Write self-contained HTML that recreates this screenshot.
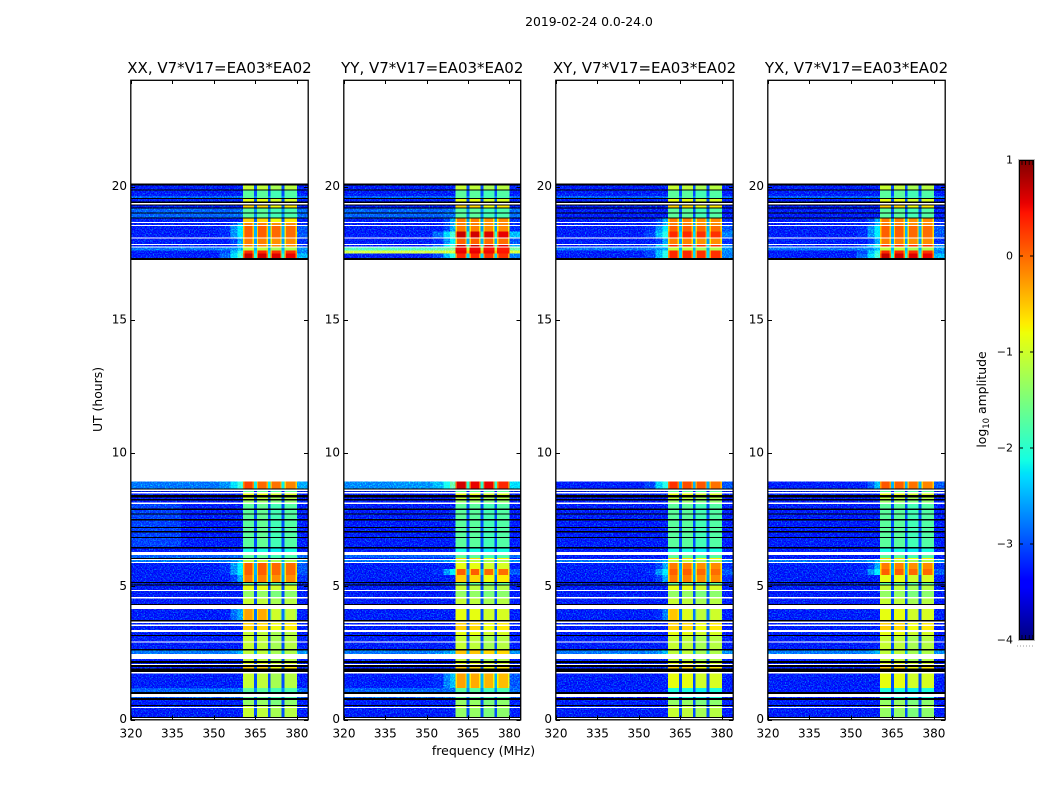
<!DOCTYPE html>
<html lang="en">
<head>
<meta charset="utf-8">
<title>2019-02-24 waterfall</title>
<style>
html,body{margin:0;padding:0;background:#fff;width:1050px;height:800px;overflow:hidden}
svg{display:block}
text{font-family:"DejaVu Sans","Liberation Sans",sans-serif;fill:#000}
</style>
</head>
<body>
<svg id="figure" xmlns="http://www.w3.org/2000/svg" width="1050" height="800" viewBox="0 0 1050 800">
<defs>
<filter id="grain" x="0" y="0" width="1" height="1" color-interpolation-filters="sRGB">
<feTurbulence type="fractalNoise" baseFrequency="0.75" numOctaves="2" seed="7" result="n"/>
<feColorMatrix in="n" type="matrix" values="0 0 0 0 0  1.5 0 0 0 -0.65  0 1.2 0 0 -0.45  0 0 0 0 1" result="c"/>
<feComposite in="SourceGraphic" in2="c" operator="arithmetic" k1="0" k2="1" k3="1" k4="0" result="s"/>
<feComposite in="s" in2="SourceAlpha" operator="in"/>
</filter>
</defs>
<text x="589" y="26" font-size="12.4" text-anchor="middle">2019-02-24 0.0-24.0</text>
<text x="483.5" y="755" font-size="12.5" text-anchor="middle">frequency (MHz)</text>
<text transform="translate(102,399.5) rotate(-90)" font-size="12.4" text-anchor="middle">UT (hours)</text>
<text transform="translate(986,399.5) rotate(-90)" font-size="12.4" text-anchor="middle">log<tspan font-size="8.5" dy="3">10</tspan><tspan dy="-3"> amplitude</tspan></text>
</svg>
<script>
// ---- Data: frequency segments (MHz) and the spectrum column each segment reads
const freqEdges = [320,338,352,356,358.5,360.5,361,364,364.5,365.5,366,369,369.5,370.5,371,374,374.5,375.5,376,379.5,380,384];
const segmentColumn = ['q1','q2','s0','s1','s2','r1','b1','r1','gap','r2','b2','r2','gap','r3','b3','r3','gap','r4','b4','r4','tail'];
const spectrumColumns = ['q1','q2','s0','s1','s2','b1','b2','b3','b4','tail','gap','rim'];

// ---- Data: typical log10 amplitude per spectrum type, in spectrumColumns order
const spectra = {
  dq:  [-3.8,-3.8,-3.8,-3.8,-3.8,-1.7,-1.7,-1.8,-1.7,-3.8,-3.3,0],
  gr:  [-3.55,-3.55,-3.55,-3.55,-3.55,-1.7,-1.7,-1.85,-1.75,-3.45,-3.0,0],
  grs: [-3.2,-3.5,-3.55,-3.55,-3.55,-1.7,-1.65,-1.85,-1.75,-3.45,-3.0,0],
  gc:  [-3.4,-3.4,-3.4,-3.4,-3.4,-2.1,-2.1,-2.2,-2.1,-3.4,-3.0,0],
  gy:  [-3.55,-3.55,-3.55,-3.55,-3.55,-1.35,-1.35,-1.5,-1.4,-3.45,-3.0,0],
  yg:  [-3.55,-3.55,-3.55,-3.55,-3.45,-1.05,-1.1,-1.25,-1.15,-3.45,-3.0,0],
  ye:  [-3.55,-3.55,-3.55,-3.55,-3.45,-0.85,-0.85,-1.0,-0.95,-3.45,-3.0,0],
  yo:  [-3.55,-3.55,-3.55,-3.55,-3.4,-0.55,-0.6,-0.8,-0.7,-3.45,-2.9,0],
  or:  [-3.55,-3.55,-3.5,-3.2,-2.7,-0.1,-0.12,-0.2,-0.18,-3.3,-2.6,0.55],
  os:  [-3.55,-3.55,-3.3,-2.8,-2.3,0.05,0.05,0,-0.02,-3.1,-2.5,0.6],
  rd:  [-3.55,-3.55,-3.2,-2.6,-2.0,0.35,0.35,0.3,0.3,-2.9,-2.3,0.6],
  dr:  [-3.5,-3.5,-3.0,-2.4,-1.8,0.7,0.65,0.6,0.55,-2.6,-2.0,0.7],
  az:  [-3.05,-3.05,-3.05,-3.0,-3.0,-1.7,-1.7,-1.85,-1.8,-3.0,-2.7,0],
  azy: [-2.95,-2.95,-2.9,-2.8,-2.6,-1.1,-1.1,-1.25,-1.2,-2.8,-2.5,0],
  azo: [-2.95,-2.95,-2.9,-2.8,-2.6,-0.5,-0.5,-0.6,-0.6,-2.8,-2.5,0],
  aor: [-2.95,-2.95,-2.8,-2.4,-1.9,0.2,0,-0.05,-0.15,-2.7,-2.2,0.4],
  adr: [-2.85,-2.8,-2.6,-2.1,-1.6,0.65,0.55,0.55,0.35,-2.4,-2.0,0.5],
  qrd: [-3.5,-3.5,-3.2,-2.5,-2.0,0.3,0.15,0.1,-0.05,-3.1,-2.5,0.4],
  qor: [-3.5,-3.5,-3.4,-3.1,-2.6,0.1,0.05,-0.05,-0.15,-3.1,-2.5,0.4],
  bb:  [-0.95,-0.95,-0.95,-0.9,-0.9,0.55,0.55,0.5,0.45,-0.9,-0.5,0],
  bg:  [-1.7,-1.7,-1.6,-1.5,-1.4,0.5,0.5,0.45,0.4,-1.5,-1.1,0],
  ob:  [-3.55,-3.55,-3.4,-3.0,-2.7,-0.3,-0.35,-1.0,-1.05,-3.4,-2.8,0.3],
  oyl: [-3.55,-3.55,-3.55,-3.3,-2.9,-0.5,-0.9,-1.1,-1.0,-3.4,-2.8,0.2],
  oss: [-3.5,-3.45,-3.3,-2.9,-2.6,-0.3,-0.35,-0.4,-0.45,-3.1,-2.5,0.35]
};

// ---- Data: time rows [UT high, UT low, XX, YY, XY, YX]; K = flagged black, W = no data
const timeRows = [
[20.11,20.04,'K','K','K','K'],[20.04,19.89,'yg','yg','yg','yg'],[19.89,19.85,'K','K','K','K'],
[19.85,19.64,'gr','gr','gr','gr'],[19.64,19.57,'az','az','az','az'],[19.57,19.54,'K','K','K','K'],
[19.54,19.44,'ye','ye','ye','ye'],[19.44,19.39,'K','K','K','K'],[19.39,19.33,'W','W','W','W'],
[19.33,19.29,'K','K','K','K'],[19.29,19.22,'yo','yo','yo','yo'],[19.22,19.18,'K','K','K','K'],
[19.18,19.03,'az','az','gr','gr'],[19.03,18.99,'K','K','K','K'],[18.99,18.84,'az','az','gr','gr'],
[18.84,18.81,'K','K','K','K'],[18.81,18.675,'yo','or','or','or'],[18.675,18.64,'W','W','W','W'],
[18.64,18.56,'or','or','or','or'],[18.56,18.525,'W','W','W','W'],[18.525,18.32,'os','or','os','os'],
[18.32,18.09,'os','dr','rd','os'],[18.09,18.06,'W','W','W','W'],[18.06,17.85,'or','os','or','or'],
[17.85,17.81,'W','W','W','W'],[17.81,17.76,'or','dr','rd','rd'],[17.76,17.72,'W','W','W','W'],
[17.72,17.61,'azy','bg','azy','azy'],[17.61,17.49,'rd','bb','rd','rd'],[17.49,17.325,'dr','rd','rd','dr'],
[17.325,17.25,'K','K','K','K'],
[8.94,8.66,'aor','adr','qrd','qor'],[8.66,8.64,'K','K','K','K'],[8.64,8.57,'W','W','W','W'],
[8.57,8.53,'dq','dq','dq','dq'],[8.53,8.49,'W','W','W','W'],[8.49,8.42,'ye','ye','ye','ye'],
[8.42,8.34,'K','K','K','K'],[8.34,8.27,'yg','yg','yg','yg'],[8.27,8.21,'K','K','K','K'],
[8.21,8.14,'gy','gy','gy','gy'],[8.14,8.08,'W','W','W','W'],[8.08,7.91,'grs','gr','gr','gr'],
[7.91,7.87,'K','K','K','K'],[7.87,7.74,'grs','gr','gr','gr'],[7.74,7.695,'K','K','K','K'],
[7.695,7.52,'grs','gr','gr','gr'],[7.52,7.47,'K','K','K','K'],[7.47,7.23,'grs','gr','gr','gr'],
[7.23,7.18,'K','K','K','K'],[7.18,7.07,'grs','gr','gr','gr'],[7.07,7.02,'K','K','K','K'],
[7.02,6.855,'grs','gr','gr','gr'],[6.855,6.82,'K','K','K','K'],[6.82,6.47,'grs','gr','gr','gr'],
[6.47,6.42,'K','K','K','K'],[6.42,6.29,'gc','gc','gc','gc'],[6.29,6.17,'W','W','W','W'],
[6.17,6.06,'az','az','gr','gr'],[6.06,6.02,'K','yo','yo','yo'],[6.02,5.98,'W','W','W','W'],
[5.98,5.91,'azy','azy','azy','azy'],[5.91,5.87,'W','W','W','W'],[5.87,5.64,'os','ye','or','or'],
[5.64,5.42,'os','os','os','os'],[5.42,5.16,'or','yo','or','ye'],[5.16,5.12,'K','K','K','K'],
[5.12,5.06,'dq','dq','dq','dq'],[5.06,5.02,'K','K','K','K'],[5.02,4.86,'ye','yg','ye','yg'],
[4.86,4.82,'W','W','W','W'],[4.82,4.59,'gy','gy','gy','gy'],[4.59,4.54,'W','W','W','W'],
[4.54,4.33,'yg','yg','yg','yg'],[4.33,4.29,'K','K','K','K'],[4.29,4.14,'W','W','W','W'],
[4.14,3.73,'ob','ye','oyl','ye'],[3.73,3.675,'K','K','K','K'],[3.675,3.62,'W','W','W','W'],
[3.62,3.56,'yo','yo','yo','yo'],[3.56,3.51,'W','W','W','W'],[3.51,3.36,'yo','yo','yo','yo'],
[3.36,3.28,'W','W','W','W'],[3.28,3.17,'yg','ye','ye','ye'],[3.17,3.13,'K','K','K','K'],
[3.13,2.925,'yg','yg','yg','yg'],[2.925,2.89,'W','W','W','W'],[2.89,2.64,'yg','yg','yg','yg'],
[2.64,2.59,'K','K','K','K'],[2.59,2.46,'azy','azo','azy','azy'],[2.46,2.27,'W','W','W','W'],
[2.27,2.19,'yg','yg','yg','yg'],[2.19,2.12,'K','K','K','K'],[2.12,2.08,'ye','ye','ye','ye'],
[2.08,2.04,'W','W','W','W'],[2.04,1.97,'K','K','K','K'],[1.97,1.91,'yo','yo','yo','yo'],
[1.91,1.78,'K','K','K','K'],[1.78,1.725,'W','W','W','W'],[1.725,1.18,'yg','oss','ye','ye'],
[1.18,1.03,'az','az','gc','gc'],[1.03,0.96,'K','K','K','K'],[0.96,0.84,'W','W','W','W'],
[0.84,0.81,'az','az','gc','gc'],[0.81,0.73,'K','K','K','K'],[0.73,0.54,'gy','gy','gy','gy'],
[0.54,0.51,'K','K','K','K'],[0.51,0.47,'yg','yg','yg','yg'],[0.47,0.43,'W','W','W','W'],
[0.43,0.09,'yg','gy','yg','gy'],[0.09,0.06,'K','K','K','K'],[0.06,0,'W','W','W','W']
];

// ---- Data: tick labels and panels
const xTicks = [320,335,350,365,380];
const yTicks = [0,5,10,15,20];
const colorTicks = [-4,-3,-2,-1,0,1];
const panelTitles = ['XX, V7*V17=EA03*EA02','YY, V7*V17=EA03*EA02','XY, V7*V17=EA03*EA02','YX, V7*V17=EA03*EA02'];
const panelNames = ['xx','yy','xy','yx'];

// ---- Layout
const panelLeft = [131,344,556,768];
const panelRight = [308,520.5,733,945];
const plotTop = 80, plotBottom = 719.5;
const freqMin = 320, freqMax = 384, utMin = 0, utMax = 24;
const cbLeft = 1019, cbRight = 1034, cbTop = 160, cbBottom = 640;
const cMin = -4, cMax = 1;

const NS = 'http://www.w3.org/2000/svg';
const fig = document.getElementById('figure');
function make(parent, tag, attrs){
  const el = document.createElementNS(NS, tag);
  for (const k in attrs) el.setAttribute(k, attrs[k]);
  parent.appendChild(el);
  return el;
}
function interp(pts, f){
  for (let i = 1; i < pts.length; i++){
    if (f <= pts[i][0]){
      const a = pts[i-1], b = pts[i];
      return a[1] + (b[1]-a[1]) * (f-a[0]) / (b[0]-a[0]);
    }
  }
  return pts[pts.length-1][1];
}
const jetR = [[0,0],[0.35,0],[0.66,1],[0.89,1],[1,0.5]];
const jetG = [[0,0],[0.125,0],[0.375,1],[0.64,1],[0.91,0],[1,0]];
const jetB = [[0,0.5],[0.11,1],[0.34,1],[0.65,0],[1,0]];
function jet(f){
  f = Math.max(0, Math.min(1, f));
  return 'rgb(' + [jetR,jetG,jetB].map(p => Math.round(255*interp(p,f))).join(',') + ')';
}
function colorOf(v){ return jet((v-cMin)/(cMax-cMin)); }
function valueFor(spec, col){
  if (col[0] === 'r'){
    const band = spec[spectrumColumns.indexOf('b' + col[1])];
    return band - spec[spectrumColumns.indexOf('rim')];
  }
  return spec[spectrumColumns.indexOf(col)];
}
function utToY(ut){ return plotBottom - (ut-utMin)/(utMax-utMin)*(plotBottom-plotTop); }

panelTitles.forEach(function(title, p){
  const left = panelLeft[p], right = panelRight[p];
  const fx = f => left + (f-freqMin)/(freqMax-freqMin)*(right-left);

  const panel = make(fig,'g',{});
  
  

  const quietGroup = make(panel,'g',{filter:'url(#grain)','shape-rendering':'crispEdges'});
  
  
  const bandGroup = make(panel,'g',{'shape-rendering':'crispEdges'});
  
  

  timeRows.forEach(function(row){
    const key = row[2+p];
    if (key === 'W') return;
    const y1 = utToY(row[0]), y2 = utToY(row[1]);
    if (key === 'K'){
      const flag = make(bandGroup,'rect',{x:left,y:y1,width:right-left,height:Math.max(y2-y1,1),fill:'#000'});
      
      
      return;
    }
    const spec = spectra[key];
    segmentColumn.forEach(function(col, s){
      const x1 = fx(freqEdges[s]), x2 = fx(freqEdges[s+1]);
      const noisy = col[0] === 'q' || col[0] === 's' || col === 'tail';
      const cell = make(noisy ? quietGroup : bandGroup,'rect',{x:x1,y:y1,width:x2-x1,height:Math.max(y2-y1,1),fill:colorOf(valueFor(spec,col))});
      
      
    });
  });

  const frame = make(panel,'rect',{x:left-0.2,y:plotTop+0.3,width:right-left+0.4,height:plotBottom-plotTop,fill:'none',stroke:'#000','stroke-width':1.3});
  
  

  const ttl = make(panel,'text',{x:(left+right)/2,y:73,'font-size':15,'text-anchor':'middle'});
  ttl.textContent = title;
  
  

  xTicks.forEach(function(t){
    const x = Math.round(fx(t)) + 0.5;
    const bottomTick = make(panel,'line',{x1:x,x2:x,y1:plotBottom,y2:plotBottom-4,stroke:'#000','stroke-width':1});
    
    
    const topTick = make(panel,'line',{x1:x,x2:x,y1:plotTop,y2:plotTop+4,stroke:'#000','stroke-width':1});
    
    
    const label = make(panel,'text',{x:fx(t),y:737.5,'font-size':12,'text-anchor':'middle'});
    label.textContent = t;
    
    
  });
  yTicks.forEach(function(t){
    const y = Math.round(utToY(t)) + 0.5;
    const leftTick = make(panel,'line',{x1:left,x2:left+4,y1:y,y2:y,stroke:'#000','stroke-width':1});
    
    
    const rightTick = make(panel,'line',{x1:right,x2:right-4,y1:y,y2:y,stroke:'#000','stroke-width':1});
    
    
    const label = make(panel,'text',{x:left-4,y:utToY(t)+3.5,'font-size':12,'text-anchor':'end'});
    label.textContent = t;
    
    
  });
});

// ---- Colorbar
const cb = make(fig,'g',{});


const cbY = v => cbBottom - (v-cMin)/(cMax-cMin)*(cbBottom-cbTop);
const cbSteps = cbBottom - cbTop;
for (let i = 0; i < cbSteps; i++){
  const sw = make(cb,'rect',{x:cbLeft,y:cbTop+i,width:cbRight-cbLeft,height:1.2,fill:jet(1-(i+0.5)/cbSteps),'shape-rendering':'crispEdges'});
  
  
}
const cbHalo = make(cb,'rect',{x:cbLeft-0.5,y:cbTop-0.5,width:cbRight-cbLeft+1,height:cbBottom-cbTop+1,fill:'none',stroke:'#bbb','stroke-width':1});


const cbFrame = make(cb,'rect',{x:cbLeft+0.5,y:cbTop+0.5,width:cbRight-cbLeft-1,height:cbBottom-cbTop-1,fill:'none',stroke:'#000','stroke-width':1});


colorTicks.forEach(function(t){
  const y = cbY(t);
  const lab = make(cb,'text',{x:cbLeft-6,y:y+3.5,'font-size':11,'text-anchor':'end'});
  lab.textContent = String(t).replace('-', '\u2212');
  
  
  if (t !== cMin && t !== cMax){
    const a = make(cb,'line',{x1:cbLeft,x2:cbLeft+4,y1:y,y2:y,stroke:'#000','stroke-width':1});
    
    
    const b = make(cb,'line',{x1:cbRight,x2:cbRight-4,y1:y,y2:y,stroke:'#000','stroke-width':1});
    
    
  }
});
for (let x = cbLeft + 3; x < cbRight; x += 3.6){
  const up = make(cb,'line',{x1:x,x2:x,y1:cbTop,y2:cbTop+5,stroke:'#000','stroke-width':0.8});
  
  
  const dn = make(cb,'line',{x1:x,x2:x,y1:cbBottom,y2:cbBottom-5,stroke:'#000','stroke-width':0.8});
  
  
}
const dots = make(cb,'line',{x1:cbLeft-2,x2:cbRight+1,y1:646,y2:646,stroke:'#999','stroke-width':1,'stroke-dasharray':'1 2'});


</script>
</body>
</html>
